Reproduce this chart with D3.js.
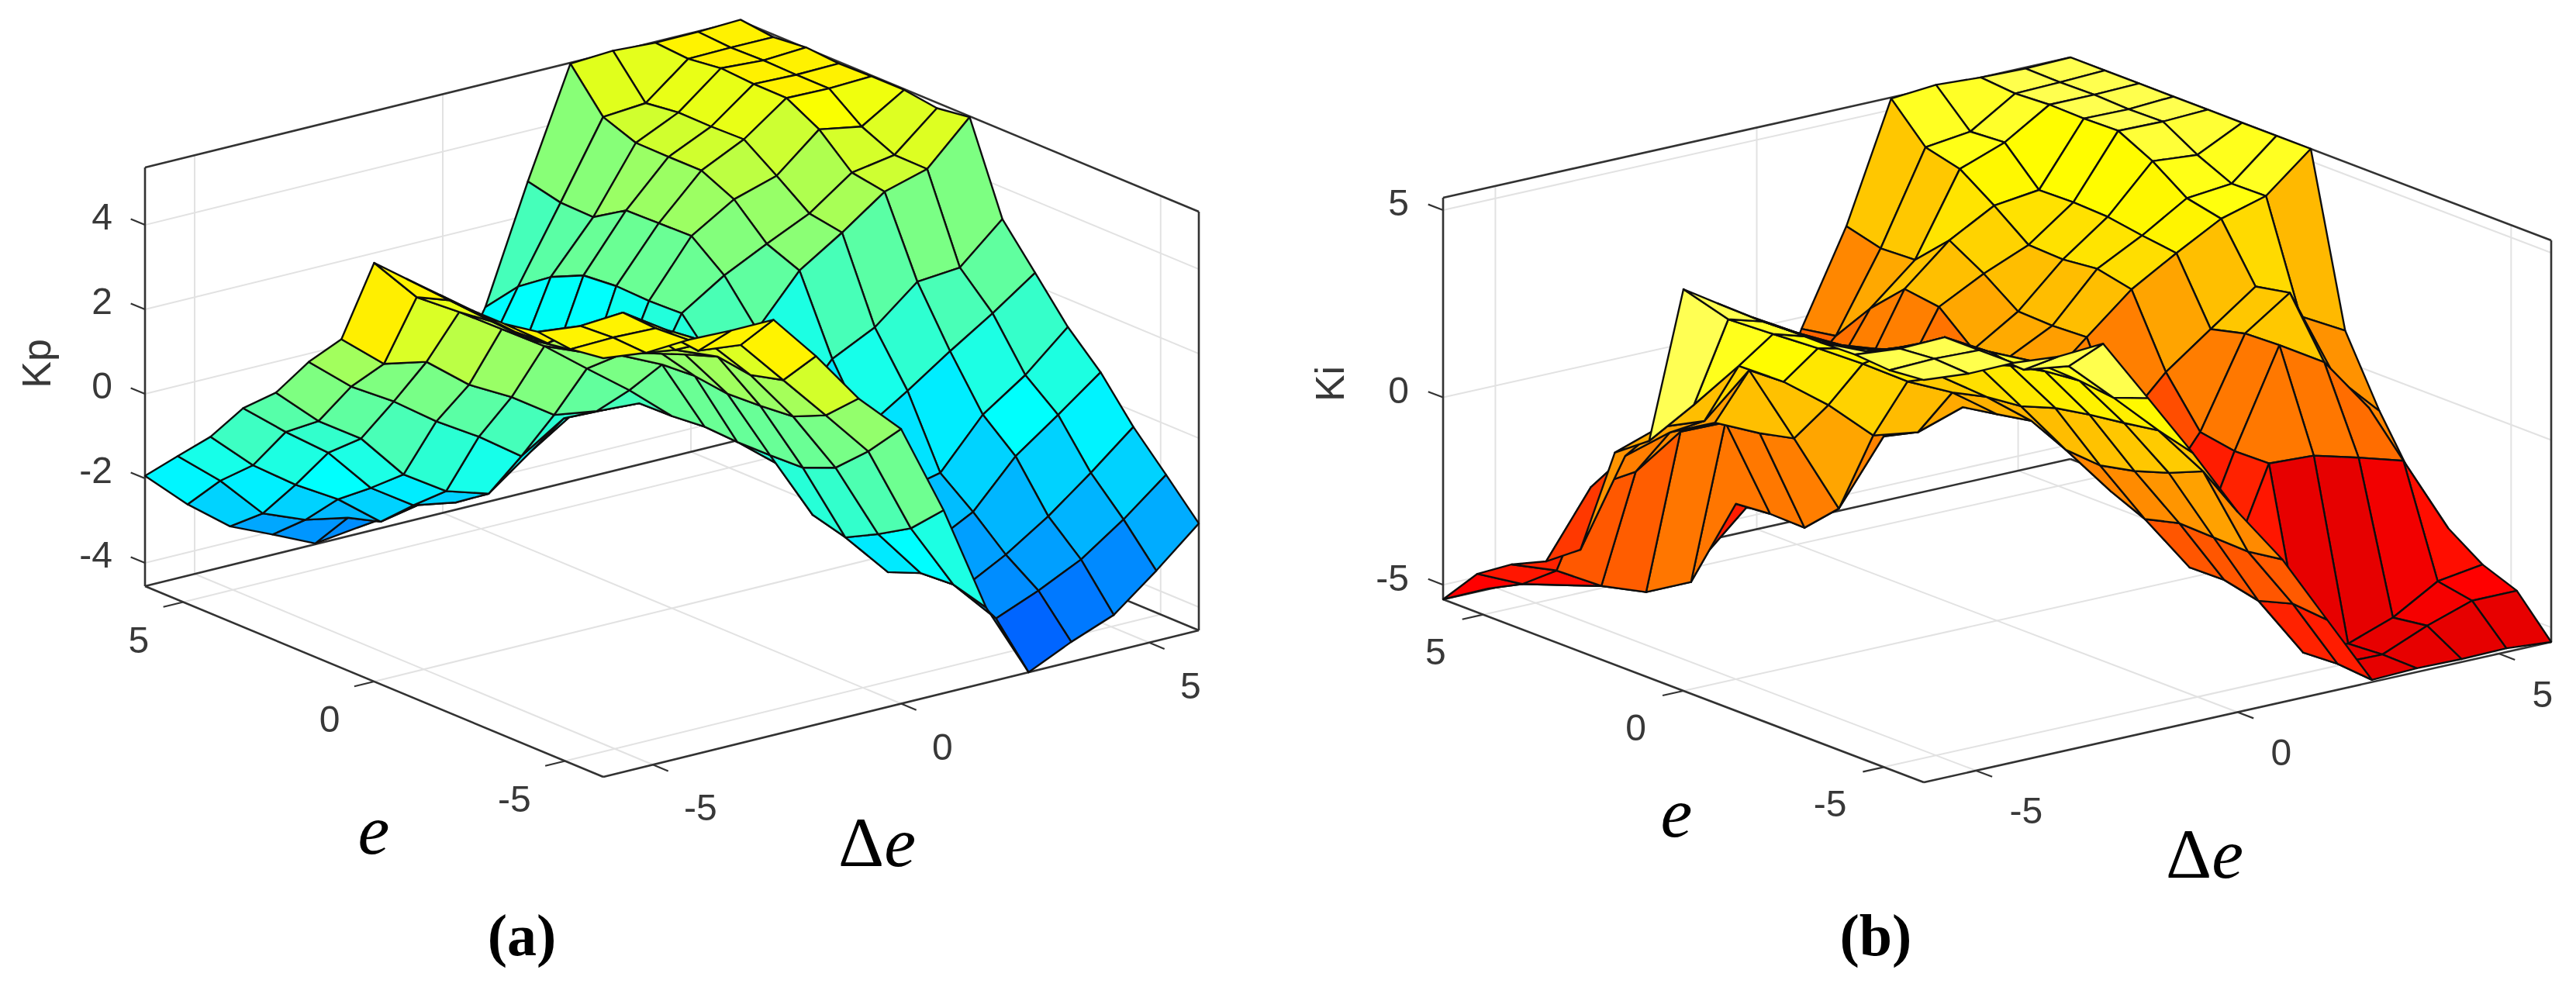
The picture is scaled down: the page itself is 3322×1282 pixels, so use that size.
<!DOCTYPE html>
<html><head><meta charset="utf-8">
<script src="https://cdn.jsdelivr.net/npm/d3@7"></script>
<style>html,body{margin:0;padding:0;background:#fff}svg{display:block}</style>
</head><body><div id="chart"></div>
<script>
// grid coordinates (15 x 15 samples on both inputs)
const eGrid  = [-6,-5.143,-4.286,-3.429,-2.571,-1.714,-0.857,0,0.857,1.714,2.571,3.429,4.286,5.143,6];
const deGrid = [-6,-5.143,-4.286,-3.429,-2.571,-1.714,-0.857,0,0.857,1.714,2.571,3.429,4.286,5.143,6];
const axisTicks = [-5,0,5];
const kpTicks = [-4,-2,0,2,4];
const kiTicks = [-5,0,5];
// rows: e index, columns: delta-e index
const kpValues = [
[5.36,5.24,5.3,5.27,5.28,4.17,2.92,1.95,-.22,-2.77,-4.55,-4.08,-3.69,-2.89,-2.02],
[5.25,5.28,5.25,4.47,4.36,3.28,2.2,1.1,-.97,-2.55,-3.6,-3.19,-2.7,-2.0,-1.19],
[5.34,5.23,5.3,4.65,4.1,3.08,1.85,.39,-1.43,-2.6,-3.2,-2.66,-2,-1.22,-.38],
[5.2,4.5,4.7,4.5,3.6,3.19,1.78,.07,-1.83,-2.9,-2.5,-1.97,-.9,-.17,.59],
[5.2,4.45,4.0,4.2,3.2,2.92,1.74,.04,-1.62,-2.4,-1.6,-1.37,-.24,.45,1.34],
[5.25,4.5,3.75,3.5,2.9,2.77,1.84,.03,-.77,-1.5,-.4,.25,.94,1.59,2.3],
[5.3,4.55,3.8,3.1,2.6,2.26,1.79,.07,.3,-.2,.93,1.43,2.26,2.35,3.25],
[5.36,4.3,3.7,3.05,2.4,1.62,.86,0,1,1.55,2.7,3.35,4.07,4.36,5.34],
[3.23,2.4,2.2,1.41,.87,.2,.04,-.02,1.86,2.51,3.01,3.48,4.2,4.37,5.23],
[2.37,1.54,.94,.22,-.39,-1.1,-.45,-.49,1.83,3.12,3.74,4.05,4.9,4.72,5.34],
[1.32,.4,-.26,-1.36,-2,-2.31,-1.55,-.9,1.86,3.1,4.1,4.59,5.32,5.3,5.34],
[.63,-.18,-.92,-2,-2.66,-2.84,-2.4,-.8,1.79,3.08,4.1,4.57,5.33,5.3,5.32],
[-.37,-1.29,-2,-2.59,-3.37,-3.17,-3,-.9,1.43,2.6,4.11,4.58,5.38,5.32,5.38],
[-1.15,-1.98,-3,-3.4,-3.6,-3.8,-3.2,-1,.88,2.62,4.4,4.48,5.28,5.3,5.3],
[-1.94,-2.86,-3.63,-4.07,-4.53,-4.4,-3.5,-1.8,.07,2.8,5.34,5.4,5.34,5.35,5.39]
];
const kiValues = [
[5.35,5.25,5.27,5.17,5.25,3.53,1.8,-.04,-1.58,-3.46,-5.33,-5.29,-5.31,-5.29,-5.39],
[5.26,5.3,5.26,4.47,4.3,3.19,2.05,.69,-1.72,-3.38,-5.25,-5.27,-4.77,-4.37,-4.37],
[5.33,5.22,5.26,4.6,4.07,3.3,1.9,.3,-1.69,-3.65,-5.3,-5.33,-4.9,-4.2,-4.02],
[5.3,4.8,4.66,4.5,3.9,3.2,1.77,0,-1.66,-3.44,-.6,-.66,-.98,-1.33,-3.4],
[5.3,4.65,4.2,4.1,3.82,3,1.6,-.2,-1.9,-3.46,-.62,1.94,1.22,-.27,-2.48],
[5.28,4.6,4.0,3.6,3.57,2.7,1.3,-.13,-1.5,-2,-.46,1.9,2.72,.22,-.97],
[5.3,4.55,3.88,3.3,3.0,2,1.2,.29,-.3,-.4,.79,1.67,2.54,1.48,.83],
[5.33,4.26,3.6,2.95,2.27,1.53,.97,.12,.6,1.64,2.65,3.35,4,4.34,5.33],
[.93,1.63,2.4,1.71,.82,-.26,-.44,-.04,1,1.6,2.85,3.47,4.2,4.32,5.33],
[.27,.68,.58,1.67,-.42,-2.56,-.9,-.76,.88,1.63,2.75,3.62,4.84,4.74,5.33],
[-2.67,-.43,-.07,-.08,-.63,-3.42,-2,-.4,1.67,2.29,2.79,3.66,5.3,5.28,5.33],
[-3.33,-1.62,-1.47,-.67,-.69,-3.4,-3,-.4,1.8,2.83,3.49,3.64,5.28,5.26,5.33],
[-3.76,-4.19,-4.87,-5.3,-5.3,-3.48,-3.9,-.9,.93,1.96,4.12,4.56,5.3,5.3,5.33],
[-4.36,-4.9,-5.2,-5.35,-5.35,-5.3,-4.2,-1.3,-.15,1.92,4.35,4.5,5.25,5.28,5.33],
[-5.39,-5.37,-5.37,-5.37,-5.35,-5.3,-5,-3,-.31,2.16,5.3,5.4,5.33,5.3,5.33]
];

const W = 3322, H = 1282;
const svg = d3.select("#chart").append("svg").attr("width",W).attr("height",H).attr("viewBox",[0,0,W,H]);
const defs = svg.append("defs");
defs.append("filter").attr("id","soft").attr("x","-5%").attr("y","-5%").attr("width","110%").attr("height","110%")
  .append("feGaussianBlur").attr("stdDeviation",0.7);

const panels = [
 { values:kpValues, zLabel:"Kp", zTicks:kpTicks, zDomain:[-4.55,5.36],
   L:[187,756], F:[778,1002], R:[1546,813], wall:540,
   colors:d3.scaleLinear().domain([-6.9,-0.95,3,5.0,10.9]).range(["#0000ff","#00ffff","#96ff69","#ffff00","#ff0000"]).clamp(true),
   zLab:{dx:-42,dy:5.5}, eLab:{dx:-44,dy:65}, dLab:{dx:40,dy:72},
   zTitle:[65,469], eTitle:[482,1101], dTitle:[1081,1117], tag:"(a)", tagPos:[673,1232] },
 { values:kiValues, zLabel:"Ki", zTicks:kiTicks, zDomain:[-5.39,5.33],
   L:[1861,773], F:[2481,1009], R:[3290,828], wall:518,
   colors:d3.scaleLinear().domain([-5.39,-4.46,3.71,5.33]).range(["#e40000","#ff0000","#ffff00","#ffff52"]).clamp(true),
   zLab:{dx:-44,dy:7.5}, eLab:{dx:-48,dy:64}, dLab:{dx:43,dy:68.5},
   zTitle:[1733,495], eTitle:[2162,1079], dTitle:[2793,1132], tag:"(b)", tagPos:[2419,1232] }
];

const axisColor = "#333", gridColor = "#e2e2e2", textColor = "#383838";
const sans = "'Liberation Sans',Arial,sans-serif", serif = "'Liberation Serif','Times New Roman',serif";

panels.forEach(p => {
  const g = svg.append("g").attr("filter","url(#soft)");
  const dom = [-6,6];
  // horizontal + vertical contributions of each data axis, through scales
  const dX = d3.scaleLinear().domain(dom).range([0,p.R[0]-p.F[0]]);
  const dY = d3.scaleLinear().domain(dom).range([0,p.R[1]-p.F[1]]);
  const eX = d3.scaleLinear().domain(dom).range([0,p.L[0]-p.F[0]]);
  const eY = d3.scaleLinear().domain(dom).range([0,p.L[1]-p.F[1]]);
  const zY = d3.scaleLinear().domain(p.zDomain).range([0,-p.wall]);
  const proj = (d,e,z) => [p.F[0]+dX(d)+eX(e), p.F[1]+dY(d)+eY(e)+zY(z)];
  const [z0,z1] = p.zDomain;
  const line = d3.line();
  const seg = (a,b,color,w) => g.append("path").attr("d",line([a,b])).attr("fill","none")
      .attr("stroke",color).attr("stroke-width",w);

  // grid on walls + floor
  axisTicks.forEach(t => {
    seg(proj(t,6,z0),proj(t,6,z1),gridColor,2);     // left wall verticals
    seg(proj(6,t,z0),proj(6,t,z1),gridColor,2);     // right wall verticals
    seg(proj(t,-6,z0),proj(t,6,z0),gridColor,2);    // floor
    seg(proj(-6,t,z0),proj(6,t,z0),gridColor,2);    // floor
  });
  p.zTicks.forEach(t => {
    seg(proj(-6,6,t),proj(6,6,t),gridColor,2);
    seg(proj(6,6,t),proj(6,-6,t),gridColor,2);
  });
  // box
  const bw = 2.6;
  seg(proj(-6,6,z0),proj(-6,6,z1),axisColor,bw);
  seg(proj(-6,6,z1),proj(6,6,z1),axisColor,bw);
  seg(proj(6,6,z1),proj(6,-6,z1),axisColor,bw);
  seg(proj(6,-6,z1),proj(6,-6,z0),axisColor,bw);
  seg(proj(-6,6,z0),proj(6,6,z0),axisColor,bw);
  seg(proj(6,6,z0),proj(6,-6,z0),axisColor,bw);
  seg(proj(-6,6,z0),proj(-6,-6,z0),axisColor,bw);
  seg(proj(-6,-6,z0),proj(6,-6,z0),axisColor,bw);
  // ticks
  const step = 0.4;
  p.zTicks.forEach(t => { const a=proj(-6,6,t); seg(a,[a[0]+eX(6)*0.031,a[1]+eY(6)*0.031],axisColor,2.2);
    const b=proj(-6,6,t);
    g.append("text").attr("x",b[0]+p.zLab.dx).attr("y",b[1]+p.zLab.dy).attr("text-anchor","end")
     .attr("font-family",sans).attr("font-size",48).attr("fill",textColor).text(t); });
  axisTicks.forEach(t => {
    const a=proj(-6,t,z0), c=proj(t,-6,z0);
    seg(a,proj(-6-step,t,z0),axisColor,2.2);
    seg(c,proj(t,-6-step,z0),axisColor,2.2);
    g.append("text").attr("x",a[0]+p.eLab.dx).attr("y",a[1]+p.eLab.dy).attr("text-anchor","end")
     .attr("font-family",sans).attr("font-size",48).attr("fill",textColor).text(t);
    g.append("text").attr("x",c[0]+p.dLab.dx).attr("y",c[1]+p.dLab.dy).attr("text-anchor","start")
     .attr("font-family",sans).attr("font-size",48).attr("fill",textColor).text(t);
  });
  // surface: back to front, colour from the lowest-index corner
  for (let i=eGrid.length-2;i>=0;i--) for (let j=deGrid.length-2;j>=0;j--) {
    const v=p.values;
    const pts=[proj(deGrid[j],eGrid[i],v[i][j]),proj(deGrid[j+1],eGrid[i],v[i][j+1]),
               proj(deGrid[j+1],eGrid[i+1],v[i+1][j+1]),proj(deGrid[j],eGrid[i+1],v[i+1][j])];
    g.append("path").attr("d",line(pts)+"Z").attr("fill",p.colors(v[i][j]))
      .attr("stroke","#111").attr("stroke-width",2.4).attr("stroke-linejoin","round");
  }
  // titles
  g.append("text").attr("transform",`translate(${p.zTitle[0]},${p.zTitle[1]}) rotate(-90)`)
   .attr("text-anchor","middle").attr("font-family",sans).attr("font-size",52).attr("fill",textColor).text(p.zLabel);
  g.append("text").attr("x",p.eTitle[0]).attr("y",p.eTitle[1]).attr("text-anchor","middle")
   .attr("font-family",serif).attr("font-style","italic").attr("font-size",92).attr("fill","#000").text("e");
  const dt=g.append("text").attr("x",p.dTitle[0]).attr("y",p.dTitle[1]).attr("font-family",serif).attr("font-size",92).attr("fill","#000");
  dt.append("tspan").text("Δ");
  dt.append("tspan").attr("font-style","italic").text("e");
  g.append("text").attr("x",p.tagPos[0]).attr("y",p.tagPos[1]).attr("text-anchor","middle")
   .attr("font-family",serif).attr("font-weight","bold").attr("font-size",76).attr("fill","#000").text(p.tag);
});
</script></body></html>
